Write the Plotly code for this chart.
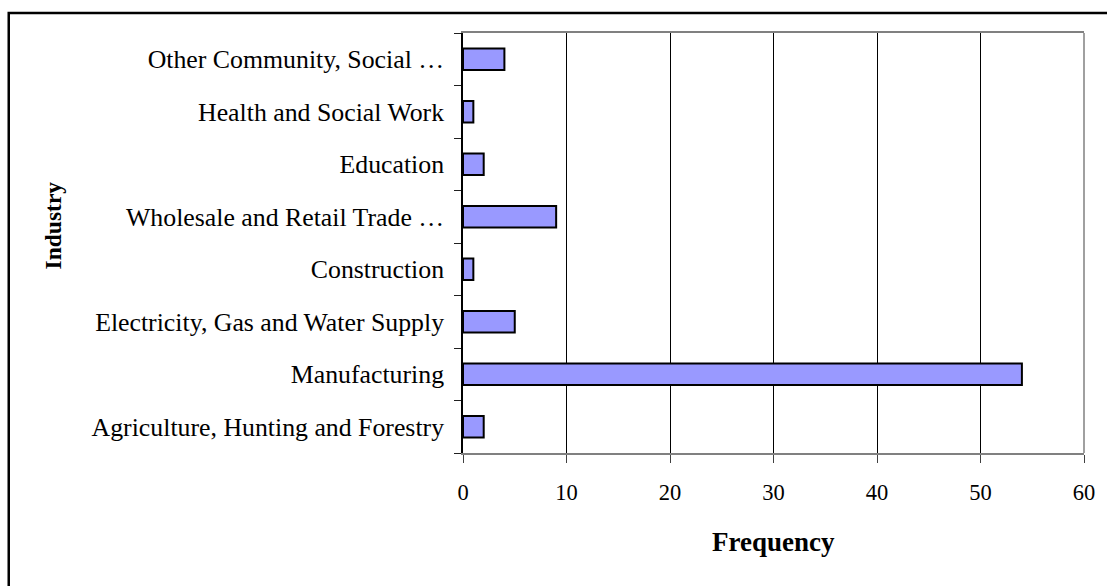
import plotly.graph_objects as go

# Industry frequency data (bottom-to-top order on the chart)
industries = [
    "Agriculture, Hunting and Forestry",
    "Manufacturing",
    "Electricity, Gas and Water Supply",
    "Construction",
    "Wholesale and Retail Trade \u2026",
    "Education",
    "Health and Social Work",
    "Other Community, Social \u2026",
]
frequency = [2, 54, 5, 1, 9, 2, 1, 4]
x_ticks = [0, 10, 20, 30, 40, 50, 60]

SERIF = "Liberation Serif, Times New Roman, serif"

fig = go.Figure(
    go.Bar(
        x=frequency,
        y=industries,
        orientation="h",
        width=0.41,
        marker=dict(color="#9999FF", line=dict(color="black", width=2)),
        hoverinfo="x+y",
    )
)

fig.update_layout(
    width=1107,
    height=586,
    margin=dict(l=463.3, r=21.3, t=32.5, b=133.3, pad=0),
    paper_bgcolor="white",
    plot_bgcolor="white",
    showlegend=False,
    bargap=0.59,
    xaxis=dict(
        range=[0, 60],
        tickvals=x_ticks,
        ticktext=[str(v) for v in x_ticks],
        showgrid=True,
        gridcolor="black",
        gridwidth=1,
        showline=True,
        linecolor="#808080",
        linewidth=1.5,
        mirror=True,
        ticks="outside",
        ticklen=8,
        tickcolor="#404040",
        ticklabelstandoff=10,
        tickfont=dict(family=SERIF, size=22.5, color="black"),
        zeroline=False,
        fixedrange=True,
    ),
    yaxis=dict(
        categoryorder="array",
        categoryarray=industries,
        showgrid=False,
        showline=True,
        linecolor="black",
        linewidth=1.5,
        ticks="outside",
        tickson="boundaries",
        ticklen=7,
        tickcolor="#202020",
        ticklabelstandoff=12,
        tickfont=dict(family=SERIF, size=25.8, color="black"),
        fixedrange=True,
    ),
    shapes=[
        # right edge of the plot area
        dict(type="line", xref="paper", yref="paper", x0=1, x1=1, y0=0, y1=1,
             line=dict(color="#808080", width=1.5)),
        # outer chart frame
        dict(type="rect", xref="paper", yref="paper",
             x0=-0.7315, x1=1.05, y0=-0.34, y1=1.0476,
             line=dict(color="black", width=2.5), layer="below"),
    ],
    annotations=[
        dict(text="<b>Frequency</b>", xref="paper", yref="paper",
             x=0.5, y=-0.2125, xanchor="center", yanchor="middle",
             showarrow=False, font=dict(family=SERIF, size=27, color="black")),
        dict(text="<b>Industry</b>", xref="paper", yref="paper",
             x=-0.661, y=0.5407, xanchor="center", yanchor="middle",
             textangle=-90, showarrow=False,
             font=dict(family=SERIF, size=23.5, color="black")),
    ],
)

fig.write_html("out.html")
